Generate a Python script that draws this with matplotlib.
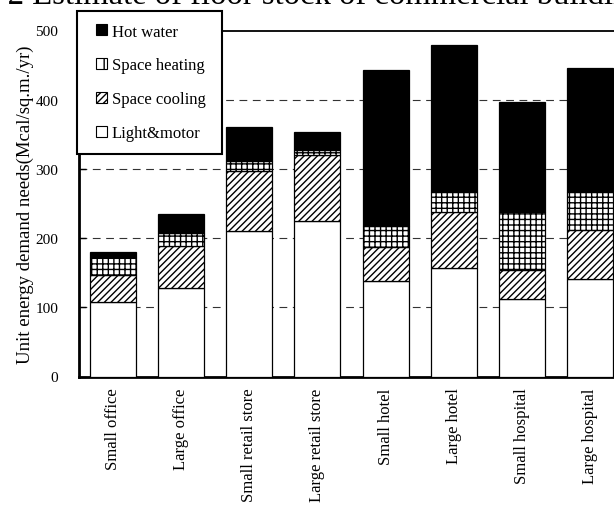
import matplotlib
matplotlib.use("Agg")
import matplotlib.pyplot as plt
from matplotlib.patches import Patch, Rectangle
from matplotlib.legend_handler import HandlerPatch
import numpy as np

plt.rcParams['font.family'] = ['Liberation Serif', 'DejaVu Serif']
plt.rcParams['hatch.linewidth'] = 1.0

categories = ["Small office", "Large office", "Small retail store", "Large retail store",
              "Small hotel", "Large hotel", "Small hospital", "Large hospital"]
light_motor   = [108, 128, 210, 225, 138, 157, 112, 141]
space_cooling = [39, 60, 87, 95, 49, 80, 42, 71]
space_heating = [25, 20, 14, 7, 31, 30, 83, 55]
hot_water     = [8, 27, 49, 26, 225, 212, 159, 179]
y_ticks = [0, 100, 200, 300, 400, 500]

W, H = 614, 506
fig = plt.figure(figsize=(W / 100, H / 100), dpi=100)
ax = fig.add_axes([79 / W, (H - 377.5) / H, 545 / W, 346 / H])

x = np.arange(len(categories))
bw = 0.675
edge = dict(edgecolor="black", linewidth=0.9, zorder=3)

ax.bar(x, light_motor, bw, color="white", **edge)
bottom = np.array(light_motor, dtype=float)
ax.bar(x, space_cooling, bw, bottom=bottom, color="white", hatch="/////", **edge)
bottom += space_cooling
ax.bar(x, space_heating, bw, bottom=bottom, color="white", hatch="+++", **edge)
bottom += space_heating
ax.bar(x, hot_water, bw, bottom=bottom, color="black", **edge)

ax.set_xlim(-0.5, len(categories) - 0.5)
ax.set_ylim(0, 500)
ax.set_yticks(y_ticks)
ax.yaxis.grid(True, color="#333333", linestyle=(0, (7, 5)), linewidth=0.8, zorder=0)
ax.set_axisbelow(True)

ax.tick_params(axis="y", direction="in", length=5, width=1, labelsize=11, pad=15)
ax.tick_params(axis="x", length=0, labelsize=12, pad=8)
ax.set_xticks(x)
ax.set_xticklabels(categories, rotation=90)

for s in ["left", "bottom"]:
    ax.spines[s].set_linewidth(2)
ax.spines["top"].set_linewidth(1.3)
ax.spines["right"].set_linewidth(1.3)

ax.set_ylabel("Unit energy demand needs(Mcal/sq.m./yr)", fontsize=13.5, labelpad=1)


def square_patch(legend, orig_handle, xdescent, ydescent, width, height, fontsize):
    return Rectangle((-xdescent + width - height, -ydescent), height, height)


handles = [
    Patch(facecolor="black", edgecolor="black", linewidth=0.8, label="Hot water"),
    Patch(facecolor="white", edgecolor="black", linewidth=0.8, hatch="||", label="Space heating"),
    Patch(facecolor="white", edgecolor="black", linewidth=0.8, hatch="/////", label="Space cooling"),
    Patch(facecolor="white", edgecolor="black", linewidth=0.8, label="Light&motor"),
]
leg = ax.legend(handles=handles, loc="upper left",
                bbox_to_anchor=(77 / W, (H - 152) / H, 145 / W, 140 / H),
                bbox_transform=fig.transFigure, mode="expand", borderaxespad=0,
                fontsize=12, frameon=True, fancybox=False, framealpha=1,
                edgecolor="black", borderpad=0.75, handlelength=1.05, handleheight=0.66,
                handletextpad=0.3, labelspacing=1.07,
                handler_map={Patch: HandlerPatch(patch_func=square_patch)})
leg.get_frame().set_linewidth(1.5)
leg.set_zorder(5)

# Title sits partly above the canvas; position the "2" a few pixels in from the left edge
title = "Fig. 2 Estimate of floor stock of commercial buildings"
prefix = "Fig. "
fs_title = 23.5
fig.canvas.draw()
renderer = fig.canvas.get_renderer()
tmp = fig.text(0, 0, prefix, fontsize=fs_title)
pw = tmp.get_window_extent(renderer).width
tmp.remove()
fig.text((8 - pw) / W, 1 - 4 / H, title, fontsize=fs_title, va="baseline", ha="left")

fig.savefig("out.png", dpi=100)
